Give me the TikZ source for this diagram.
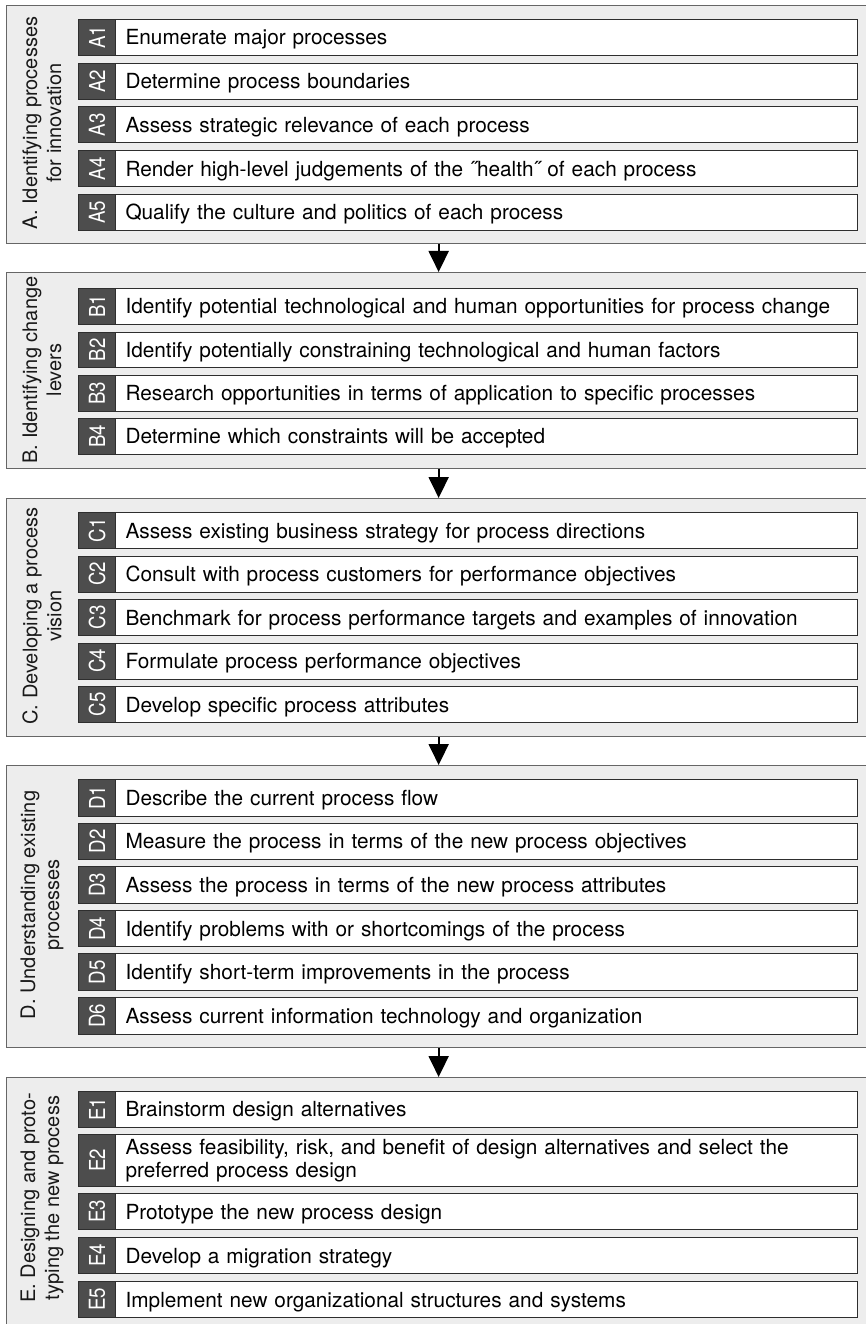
\documentclass[tikz,border=0pt]{standalone}
\usepackage{fontspec}
\usepackage{graphicx}
\setmainfont{TeX Gyre Heros}
\newfontfamily\tagfont[FakeStretch=0.85]{TeX Gyre Heros}
\usetikzlibrary{arrows.meta}
\definecolor{panel}{HTML}{EDEDED}
\definecolor{panelline}{HTML}{666666}
\definecolor{tagfill}{HTML}{4D4D4D}
\definecolor{itemline}{HTML}{2E2E2E}

% one activity row: tag square + description box
\newcommand\stageitem[4]{%
  \node[tagbox, minimum height=#3pt] (#1) at (78,#2) {\rotatebox{90}{#1}};
  \node[itembox, minimum height=#3pt] (#1t) at (115,#2) {#4};
}

\begin{document}
\begin{tikzpicture}[x=1pt,y=-1pt,
  panelbox/.style={draw=panelline, fill=panel, line width=1.3pt, rectangle,
    inner sep=0pt, anchor=north west, minimum width=864pt},
  tagbox/.style={draw=itemline, fill=tagfill, text=white, line width=1pt,
    inner sep=0pt, minimum width=37pt, anchor=north west,
    font=\tagfont\fontsize{22}{24}\selectfont},
  itembox/.style={draw=itemline, fill=white, line width=1pt, anchor=north west,
    inner xsep=10pt, inner ysep=0pt, text width=722pt, align=left,
    text height=15pt, text depth=0pt, font=\fontsize{20.8}{23}\selectfont},
  stagelabel/.style={rotate=90, align=center, inner sep=0pt, text=black!90,
    font=\fontsize{20}{24}\selectfont},
  flow/.style={line width=2pt, -{Triangle[width=20pt,length=21pt]}},
]
\useasboundingbox[fill=white] (0,0) rectangle (866,1324);

% stage panels
\node[panelbox, minimum height=238pt] (GA) at (6,5) {};
\node[panelbox, minimum height=196pt] (GB) at (6,272) {};
\node[panelbox, minimum height=238pt] (GC) at (6,498) {};
\node[panelbox, minimum height=282pt] (GD) at (6,765) {};
\node[panelbox, minimum height=254pt] (GE) at (6,1077) {};

% stage titles
\node[stagelabel] (LA) at (42,123) {A. Identifying processes\\for innovation};
\node[stagelabel] (LB) at (42,370) {B. Identifying change\\levers};
\node[stagelabel] (LC) at (42,616) {C. Developing a process\\vision};
\node[stagelabel] (LD) at (42,905) {D. Understanding existing\\processes};
\node[stagelabel] (LE) at (42,1198) {E. Designing and proto-\\typing the new process};

% stage A
\stageitem{A1}{19}{36}{Enumerate major processes}
\stageitem{A2}{62.75}{36}{Determine process boundaries}
\stageitem{A3}{106.5}{36}{Assess strategic relevance of each process}
\stageitem{A4}{150.25}{36}{Render high-level judgements of the ˝health˝ of each process}
\stageitem{A5}{194}{36}{Qualify the culture and politics of each process}

% stage B
\stageitem{B1}{288}{35.5}{Identify potential technological and human opportunities for process change}
\stageitem{B2}{331.5}{35.5}{Identify potentially constraining technological and human factors}
\stageitem{B3}{375}{35.5}{Research opportunities in terms of application to specific processes}
\stageitem{B4}{418}{35.5}{Determine which constraints will be accepted}

% stage C
\stageitem{C1}{512}{36}{Assess existing business strategy for process directions}
\stageitem{C2}{555.5}{36}{Consult with process customers for performance objectives}
\stageitem{C3}{599}{36}{Benchmark for process performance targets and examples of innovation}
\stageitem{C4}{642.5}{36}{Formulate process performance objectives}
\stageitem{C5}{686}{36}{Develop specific process attributes}

% stage D
\stageitem{D1}{779}{36.5}{Describe the current process flow}
\stageitem{D2}{822.6}{36.5}{Measure the process in terms of the new process objectives}
\stageitem{D3}{866.2}{36.5}{Assess the process in terms of the new process attributes}
\stageitem{D4}{909.8}{36.5}{Identify problems with or shortcomings of the process}
\stageitem{D5}{953.4}{36.5}{Identify short-term improvements in the process}
\stageitem{D6}{997}{36.5}{Assess current information technology and organization}

% stage E
\stageitem{E1}{1091}{35.5}{Brainstorm design alternatives}
\node[tagbox, minimum height=52pt] (E2) at (78,1134) {\rotatebox{90}{E2}};
\node[itembox, minimum height=52pt, text depth={}] (E2t) at (115,1134)
  {Assess feasibility, risk, and benefit of design alternatives and select the\\preferred process design};
\stageitem{E3}{1193}{36}{Prototype the new process design}
\stageitem{E4}{1237}{36}{Develop a migration strategy}
\stageitem{E5}{1281}{36}{Implement new organizational structures and systems}

% flow between stages
\draw[flow] (GA.south) -- (GB.north);
\draw[flow] (GB.south) -- (GC.north);
\draw[flow] (GC.south) -- (GD.north);
\draw[flow] (GD.south) -- (GE.north);
\end{tikzpicture}
\end{document}
